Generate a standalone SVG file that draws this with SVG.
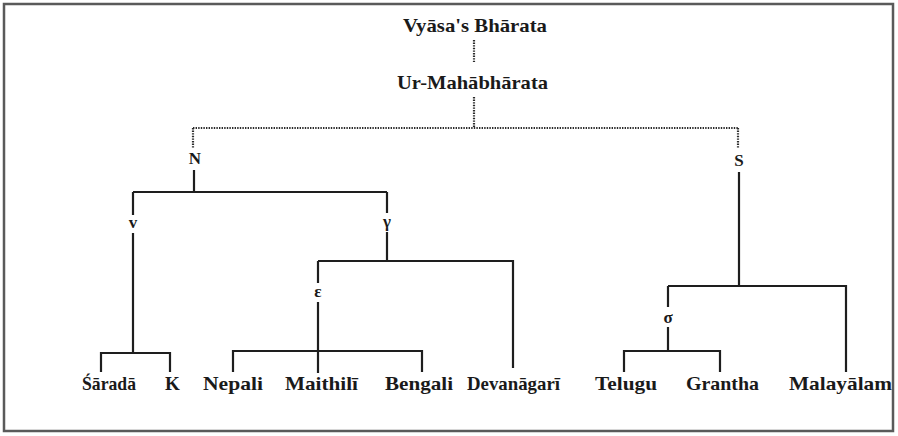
<svg xmlns="http://www.w3.org/2000/svg" width="898" height="436" viewBox="0 0 898 436">
<style>
.t{font-family:"Liberation Serif","Times New Roman",serif;font-weight:bold;font-size:19px;fill:#1a1a1a;text-anchor:middle}
.s{font-family:"Liberation Serif","Times New Roman",serif;font-weight:bold;font-size:17px;fill:#1a1a1a;text-anchor:middle}
.solid{fill:none;stroke:#1e1e1e;stroke-width:2.2}
.dot{fill:none;stroke:#2a2a2a;stroke-width:2.2;stroke-dasharray:1.4 1.2}
</style>
<rect x="4" y="4" width="889" height="427" fill="#fff" stroke="#5a5a5a" stroke-width="2.5"/>
<g id="connectors">
<path class="dot" d="M474 40V62M474 97V128M193 128H738M193 128V148M738 128V148"/>
<path class="solid" d="M194 170V192M133 192H387M133 192V215M133 233V353M387 192V213M387 232V261"/>
<path class="solid" d="M101 372V353H170V372"/>
<path class="solid" d="M318 261H513V368M318 261V283M318 302V373M233 372V351H422V372"/>
<path class="solid" d="M739 172V286M668 286H846V372M668 286V307M668 327V351M624 372V351H720V372"/>
</g>
<g id="n-vyasa"><text class="t" x="475" y="32" textLength="144" lengthAdjust="spacingAndGlyphs">Vyāsa's Bhārata</text></g>
<g id="n-ur"><text class="t" x="472.5" y="89" textLength="151" lengthAdjust="spacingAndGlyphs">Ur-Mahābhārata</text></g>
<g id="n-N"><text class="s" x="195" y="164">N</text></g>
<g id="n-S"><text class="s" x="739" y="166">S</text></g>
<g id="n-v"><text class="s" x="133" y="228">v</text></g>
<g id="n-gamma"><text class="s" x="387" y="227">γ</text></g>
<g id="n-epsilon"><text class="s" x="318" y="297">ε</text></g>
<g id="n-sigma"><text class="s" x="668" y="323">σ</text></g>
<g id="n-sarada"><text class="t" x="109" y="390" textLength="54" lengthAdjust="spacingAndGlyphs">Śāradā</text></g>
<g id="n-K"><text class="t" x="172.5" y="390">K</text></g>
<g id="n-nepali"><text class="t" x="233" y="390" textLength="60" lengthAdjust="spacingAndGlyphs">Nepali</text></g>
<g id="n-maithili"><text class="t" x="321.5" y="390" textLength="73" lengthAdjust="spacingAndGlyphs">Maithilī</text></g>
<g id="n-bengali"><text class="t" x="419" y="390" textLength="68" lengthAdjust="spacingAndGlyphs">Bengali</text></g>
<g id="n-devanagari"><text class="t" x="513.5" y="390" textLength="93" lengthAdjust="spacingAndGlyphs">Devanāgarī</text></g>
<g id="n-telugu"><text class="t" x="626" y="390" textLength="62" lengthAdjust="spacingAndGlyphs">Telugu</text></g>
<g id="n-grantha"><text class="t" x="722.5" y="390" textLength="73" lengthAdjust="spacingAndGlyphs">Grantha</text></g>
<g id="n-malayalam"><text class="t" x="840.5" y="390" textLength="103" lengthAdjust="spacingAndGlyphs">Malayālam</text></g>
</svg>
